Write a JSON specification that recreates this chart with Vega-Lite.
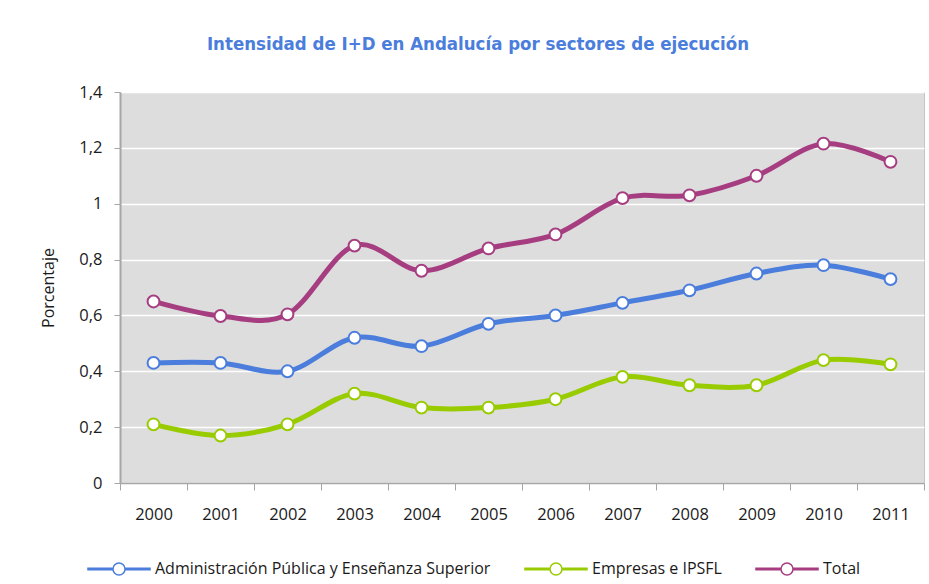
{
  "$schema": "https://vega.github.io/schema/vega-lite/v6.json",
  "width": 804,
  "height": 391,
  "autosize": {"type": "none"},
  "padding": {"left": 120, "top": 92, "right": 5, "bottom": 101},
  "background": "white",
  "title": {
    "text": "Intensidad de I+D en Andalucía por sectores de ejecución",
    "color": "#4a7ddc",
    "font": "DejaVu Sans Condensed",
    "fontSize": 18.5,
    "fontWeight": "bold",
    "anchor": "middle",
    "dx": -44,
    "offset": 31
  },
  "config": {
    "locale": {"number": {"decimal": ",", "thousands": ".", "grouping": [3], "currency": ["", " €"]}},
    "view": {"fill": "#dddddd", "stroke": "#c4c4c4", "strokeWidth": 1},
    "font": "Open Sans"
  },
  "data": {
    "values": [
      {"year": "2000", "sector": "Administración Pública y Enseñanza Superior", "value": 0.43},
      {"year": "2001", "sector": "Administración Pública y Enseñanza Superior", "value": 0.43},
      {"year": "2002", "sector": "Administración Pública y Enseñanza Superior", "value": 0.40},
      {"year": "2003", "sector": "Administración Pública y Enseñanza Superior", "value": 0.52},
      {"year": "2004", "sector": "Administración Pública y Enseñanza Superior", "value": 0.49},
      {"year": "2005", "sector": "Administración Pública y Enseñanza Superior", "value": 0.57},
      {"year": "2006", "sector": "Administración Pública y Enseñanza Superior", "value": 0.60},
      {"year": "2007", "sector": "Administración Pública y Enseñanza Superior", "value": 0.645},
      {"year": "2008", "sector": "Administración Pública y Enseñanza Superior", "value": 0.69},
      {"year": "2009", "sector": "Administración Pública y Enseñanza Superior", "value": 0.75},
      {"year": "2010", "sector": "Administración Pública y Enseñanza Superior", "value": 0.78},
      {"year": "2011", "sector": "Administración Pública y Enseñanza Superior", "value": 0.73},
      {"year": "2000", "sector": "Empresas e IPSFL", "value": 0.21},
      {"year": "2001", "sector": "Empresas e IPSFL", "value": 0.17},
      {"year": "2002", "sector": "Empresas e IPSFL", "value": 0.21},
      {"year": "2003", "sector": "Empresas e IPSFL", "value": 0.32},
      {"year": "2004", "sector": "Empresas e IPSFL", "value": 0.27},
      {"year": "2005", "sector": "Empresas e IPSFL", "value": 0.27},
      {"year": "2006", "sector": "Empresas e IPSFL", "value": 0.30},
      {"year": "2007", "sector": "Empresas e IPSFL", "value": 0.38},
      {"year": "2008", "sector": "Empresas e IPSFL", "value": 0.35},
      {"year": "2009", "sector": "Empresas e IPSFL", "value": 0.35},
      {"year": "2010", "sector": "Empresas e IPSFL", "value": 0.44},
      {"year": "2011", "sector": "Empresas e IPSFL", "value": 0.425},
      {"year": "2000", "sector": "Total", "value": 0.65},
      {"year": "2001", "sector": "Total", "value": 0.598},
      {"year": "2002", "sector": "Total", "value": 0.604},
      {"year": "2003", "sector": "Total", "value": 0.85},
      {"year": "2004", "sector": "Total", "value": 0.76},
      {"year": "2005", "sector": "Total", "value": 0.84},
      {"year": "2006", "sector": "Total", "value": 0.89},
      {"year": "2007", "sector": "Total", "value": 1.02},
      {"year": "2008", "sector": "Total", "value": 1.03},
      {"year": "2009", "sector": "Total", "value": 1.10},
      {"year": "2010", "sector": "Total", "value": 1.215},
      {"year": "2011", "sector": "Total", "value": 1.15}
    ]
  },
  "encoding": {
    "x": {
      "field": "year",
      "type": "ordinal",
      "scale": {"type": "band", "paddingInner": 0, "paddingOuter": 0},
      "bandPosition": 0.5,
      "axis": {
        "title": null,
        "labelAngle": 0,
        "tickBand": "extent",
        "grid": false,
        "domainColor": "#a6a6a6",
        "domainWidth": 1.5,
        "tickColor": "#a6a6a6",
        "tickWidth": 1,
        "tickSize": 7,
        "labelFontSize": 16.5,
        "labelColor": "#1a1a1a",
        "labelPadding": 16
      }
    },
    "y": {
      "field": "value",
      "type": "quantitative",
      "scale": {"domain": [0, 1.4], "nice": false},
      "axis": {
        "title": "Porcentaje",
        "values": [0, 0.2, 0.4, 0.6, 0.8, 1, 1.2, 1.4],
        "format": "~g",
        "gridColor": "white",
        "gridWidth": 1.5,
        "domainColor": "#a6a6a6",
        "domainWidth": 2,
        "tickColor": "#a6a6a6",
        "tickSize": 6,
        "labelFontSize": 16.5,
        "labelColor": "#1a1a1a",
        "labelPadding": 12,
        "titleFontSize": 16,
        "titleFontWeight": "normal",
        "titleColor": "#1a1a1a",
        "titlePadding": 22
      }
    }
  },
  "layer": [
    {
      "mark": {"type": "line", "interpolate": "cardinal", "strokeWidth": 5},
      "encoding": {
        "color": {
          "field": "sector",
          "type": "nominal",
          "scale": {
            "domain": ["Administración Pública y Enseñanza Superior", "Empresas e IPSFL", "Total"],
            "range": ["#4a7ddc", "#99cc00", "#a63d80"]
          },
          "legend": {
            "orient": "none",
            "legendX": -9,
            "legendY": 469,
            "direction": "horizontal",
            "columns": 3,
            "title": null,
            "symbolType": "M-5.17,-0.125L-1,-0.125L-1,0.125L-5.17,0.125ZM1,-0.125L5.17,-0.125L5.17,0.125L1,0.125ZM1,0A1,1,0,1,1,-1,0A1,1,0,1,1,1,0Z",
            "symbolSize": 144,
            "symbolStrokeWidth": 1.5,
            "labelOffset": 28,
            "columnPadding": 30,
            "labelFontSize": 16,
            "labelLimit": 600,
            "labelColor": "#1a1a1a",
            "encode": {"symbols": {"update": {"fill": {"value": "white"}, "strokeWidth": {"value": 1.5}, "opacity": {"value": 1}}}}
          }
        }
      }
    },
    {
      "mark": {"type": "point", "shape": "circle", "filled": false, "fill": "white", "fillOpacity": 1, "size": 140, "strokeWidth": 2, "opacity": 1},
      "encoding": {
        "stroke": {
          "field": "sector",
          "type": "nominal",
          "scale": {
            "domain": ["Administración Pública y Enseñanza Superior", "Empresas e IPSFL", "Total"],
            "range": ["#4a7ddc", "#99cc00", "#a63d80"]
          },
          "legend": null
        }
      }
    }
  ]
}
